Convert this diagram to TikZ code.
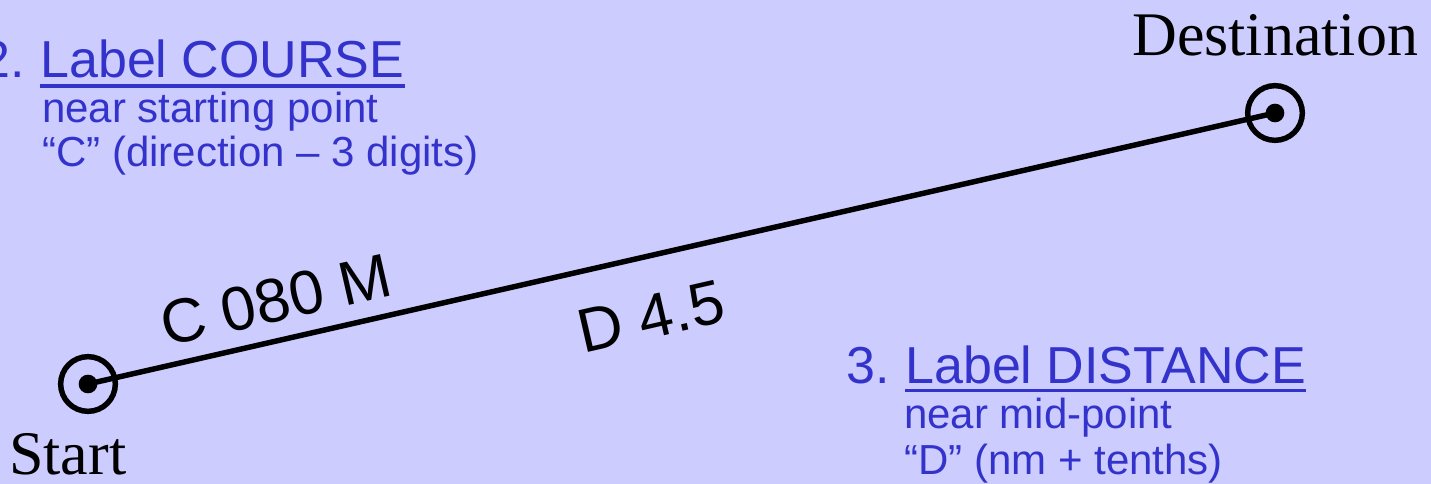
\documentclass[tikz,border=0pt]{standalone}
\usepackage{fontspec}
\setmainfont{Liberation Serif}
\setsansfont{Liberation Sans}
\definecolor{bg}{RGB}{204,204,255}
\definecolor{tblue}{RGB}{51,51,204}
\begin{document}
\begin{tikzpicture}[x=0.75pt,y=-0.75pt,
  big/.style={font=\sffamily\fontsize{39}{47}\selectfont, text=tblue, inner sep=0pt, anchor=base west},
  small/.style={font=\sffamily\fontsize{31.5}{38}\selectfont, text=tblue, inner sep=0pt, anchor=base west},
  place/.style={font=\rmfamily\fontsize{46.5}{55}\selectfont, inner sep=0pt, anchor=base west},
  leg/.style={font=\sffamily\fontsize{46.5}{55}\selectfont, inner sep=0pt, rotate=12.87},
  ring/.style={circle, draw, line width=4.1pt, minimum size=41pt, inner sep=0pt},
  dot/.style={circle, fill, minimum size=14pt, inner sep=0pt},
  uline/.style={tblue, line width=2.5pt},
  course/.style={line width=4.1pt}]
\fill[bg] (0,0) rectangle (1431,484);
\useasboundingbox (0,0) rectangle (1431,484);
% route
\node[dot] (s) at (88,384) {};
\node[ring] (sr) at (s) {};
\node[dot] (d) at (1275,113) {};
\node[ring] (dr) at (d) {};
\draw[course] (s.center) -- (d.center);
\node[place] (startlbl) at (9,474) {Start};
\node[place] (destlbl) at (1132,56) {Destination};
% leg labels
\node[leg] (clbl) at (276,300) {C 080 M};
\node[leg] (dlbl) at (651,317) {D 4.5};
% instruction 2
\node[big] (t2) at (40,78) {Label COURSE};
\node[big, anchor=base east] (n2) at (t2.base west) {2.\kern0.28em};
\draw[uline] ([yshift=-6pt]t2.base west) -- ([yshift=-6pt]t2.base east);
\node[small] (a2) at (42,123) {near starting point};
\node[small] (b2) at (42,167) {“C” (direction – 3 digits)};
% instruction 3
\node[big] (t3) at (905,383) {Label DISTANCE};
\node[big, anchor=base east] (n3) at (t3.base west) {3.\kern0.28em};
\draw[uline] ([yshift=-5.5pt]t3.base west) -- ([yshift=-5.5pt]t3.base east);
\node[small] (a3) at (904,428) {near mid-point};
\node[small] (b3) at (904,474) {“D” (nm + tenths)};
\end{tikzpicture}
\end{document}
